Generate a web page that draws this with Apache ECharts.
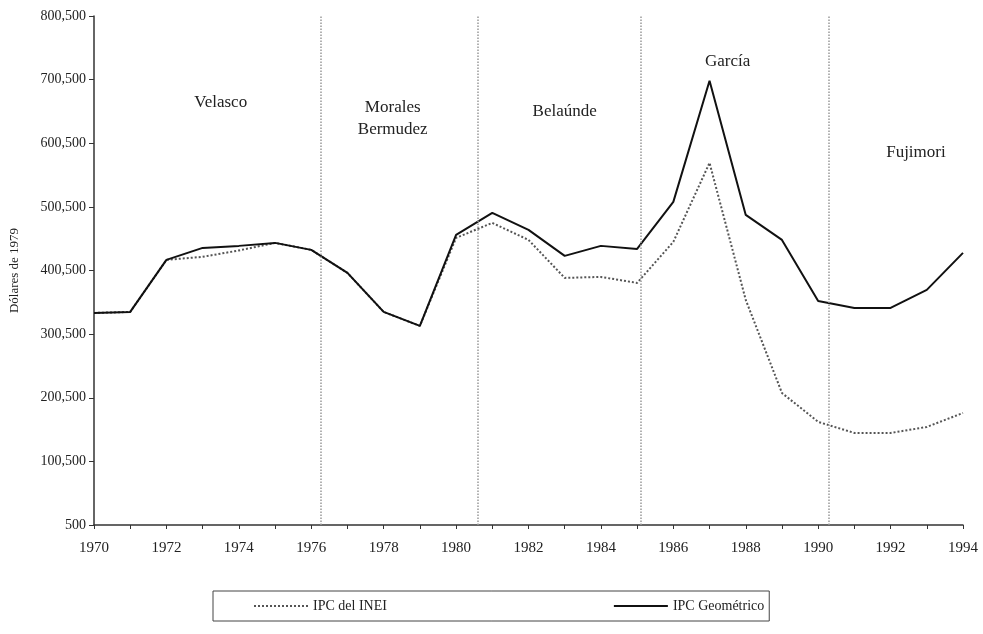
<!DOCTYPE html>
<html>
<head>
<meta charset="utf-8">
<script src="https://cdn.jsdelivr.net/npm/echarts@6/dist/echarts.min.js"></script>
<style>
  html, body { margin: 0; padding: 0; background: #fff; }
  #chart { width: 983px; height: 634px; }
</style>
</head>
<body>
<div id="chart"></div>
<script>
// años y series (dólares de 1979)
const years = [1970, 1971, 1972, 1973, 1974, 1975, 1976, 1977, 1978, 1979, 1980, 1981,
  1982, 1983, 1984, 1985, 1986, 1987, 1988, 1989, 1990, 1991, 1992, 1993, 1994];
const ipcInei = [333800, 335400, 417200, 422000, 432000, 443900, 432900, 396700, 335400, 313400, 451800, 475300,
  448600, 388900, 390400, 381000, 445500, 569700, 354300, 208000, 162500, 145200, 145200, 154600, 176600];
const ipcGeometrico = [333800, 335400, 417200, 436000, 439200, 443900, 432900, 396700, 335400, 313400, 456500, 491000,
  464300, 423500, 439200, 434400, 508400, 698600, 487900, 448600, 352700, 341700, 341700, 370000, 428200];

// cambios de gobierno y nombres de los periodos
const govChanges = [1976.25, 1980.6, 1985.1, 1990.3];
const periodNames = ['Velasco', 'Morales\nBermudez', 'Belaúnde', 'García', 'Fujimori'];
const periodX = [1973.5, 1978.25, 1983, 1987.5, 1992.7];
const periodY = [664000, 638800, 649900, 728500, 585400];

// el eje empieza en 500, se traza desde ese origen
const BASE = 500;
const font = 'Liberation Serif';

const chart = echarts.init(document.getElementById('chart'));

const option = {
  animation: false,
  backgroundColor: '#fff',
  grid: { left: 88, right: 20, top: 16, bottom: 109 },
  legend: {
    data: ['IPC del INEI', 'IPC Geométrico'],
    left: 213,
    top: 591,
    borderColor: '#444',
    borderWidth: 1,
    padding: [8, 5, 8, 40],
    itemGap: 226,
    itemWidth: 54,
    itemHeight: 10,
    itemStyle: { opacity: 0 },
    textStyle: { fontFamily: font, fontSize: 14, color: '#222' }
  },
  xAxis: {
    type: 'value',
    min: 1970,
    max: 1994,
    interval: 1,
    axisLine: { lineStyle: { color: '#333', width: 1.5 } },
    axisTick: { show: true, length: 4, lineStyle: { color: '#333' } },
    splitLine: { show: false },
    axisLabel: {
      margin: 16,
      color: '#222',
      fontFamily: font,
      fontSize: 15,
      formatter: v => (v % 2 === 0 ? String(v) : '')
    }
  },
  yAxis: {
    type: 'value',
    min: 0,
    max: 800000,
    interval: 100000,
    name: 'Dólares de 1979',
    nameLocation: 'middle',
    nameGap: 73,
    nameTextStyle: { fontFamily: font, fontSize: 13, color: '#222' },
    axisLine: { show: true, lineStyle: { color: '#333', width: 1.5 } },
    axisTick: { show: true, length: 5, lineStyle: { color: '#333' } },
    splitLine: { show: false },
    axisLabel: {
      margin: 8,
      color: '#222',
      fontFamily: font,
      fontSize: 14,
      formatter: v => (v + BASE).toLocaleString('en-US')
    }
  },
  series: [
    {
      name: 'IPC del INEI',
      type: 'line',
      symbol: 'none',
      z: 2,
      lineStyle: { color: '#555', width: 2, type: 'dotted' },
      itemStyle: { color: '#555' },
      data: years.map((y, i) => [y, ipcInei[i] - BASE]),
      markLine: {
        silent: true,
        symbol: ['none', 'none'],
        label: { show: false },
        lineStyle: { color: '#999', width: 1.5, type: 'dotted' },
        data: govChanges.map(x => ({ xAxis: x }))
      }
    },
    {
      name: 'IPC Geométrico',
      type: 'line',
      symbol: 'none',
      z: 3,
      lineStyle: { color: '#111', width: 2 },
      itemStyle: { color: '#111' },
      data: years.map((y, i) => [y, ipcGeometrico[i] - BASE]),
      markPoint: {
        silent: true,
        symbol: 'circle',
        symbolSize: 0,
        label: {
          show: true,
          position: 'inside',
          formatter: p => p.name,
          color: '#222',
          fontFamily: font,
          fontSize: 17,
          lineHeight: 22
        },
        data: periodNames.map((n, i) => ({ name: n, coord: [periodX[i], periodY[i] - BASE] }))
      }
    }
  ]
};

chart.setOption(option);
</script>
</body>
</html>
